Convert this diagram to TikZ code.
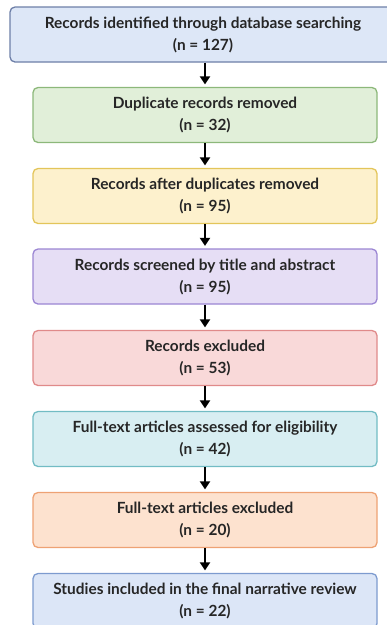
\documentclass[tikz,border=0pt]{standalone}
\usepackage{fontspec}
\setmainfont{Lato}
\usetikzlibrary{arrows.meta}

\definecolor{fillA}{HTML}{DDE7F7}\definecolor{lineA}{HTML}{6D7FA8}
\definecolor{fillB}{HTML}{E1EFD9}\definecolor{lineB}{HTML}{8CB87A}
\definecolor{fillC}{HTML}{FDF1CD}\definecolor{lineC}{HTML}{E3C55A}
\definecolor{fillD}{HTML}{E6DEF5}\definecolor{lineD}{HTML}{9B86D3}
\definecolor{fillE}{HTML}{F9D9D9}\definecolor{lineE}{HTML}{E08A8A}
\definecolor{fillF}{HTML}{D8EEF2}\definecolor{lineF}{HTML}{72BCC4}
\definecolor{fillG}{HTML}{FDE2CF}\definecolor{lineG}{HTML}{EEA274}
\definecolor{fillH}{HTML}{DCE6F7}\definecolor{lineH}{HTML}{7D9BCF}

\tikzset{
  stagebox/.style={draw,line width=1.3pt,rounded corners=5pt,minimum height=55pt,align=center,inner sep=2pt},
  flowarrow/.style={line width=2.2pt,-{Triangle[width=10pt,length=8pt]},shorten >=2.5pt}
}

\begin{document}
\begin{tikzpicture}[x=1pt,y=-1pt,every node/.style={font=\fontsize{15.4}{22}\selectfont\bfseries,text=black!85}]
\useasboundingbox (0,0) rectangle (387,625);
% stages of the screening flow
\foreach \i/\x/\y/\w/\c/\txt in {
  1/203/34.5/386/A/Records identified through database searching\\(n = 127),
  2/205/115/344/B/Duplicate records removed\\(n = 32),
  3/205/196/344/C/Records after duplicates removed\\(n = 95),
  4/205/276.5/344/D/Records screened by title and abstract\\(n = 95),
  5/205/358/344/E/Records excluded\\(n = 53),
  6/205/439/344/F/Full-text articles assessed for eligibility\\(n = 42),
  7/205/520/344/G/Full-text articles excluded\\(n = 20),
  8/205/601/344/H/Studies included in the final narrative review\\(n = 22)} {
  \node[stagebox,draw=line\c,fill=fill\c,minimum width=\w pt] (b\i) at (\x,\y) {\txt};
}
% arrows between stages
\foreach \i [evaluate=\i as \j using int(\i+1)] in {1,...,7} {
  \draw[flowarrow] (b\i.south -| 205,0) -- (b\j.north -| 205,0);
}
\end{tikzpicture}
\end{document}
